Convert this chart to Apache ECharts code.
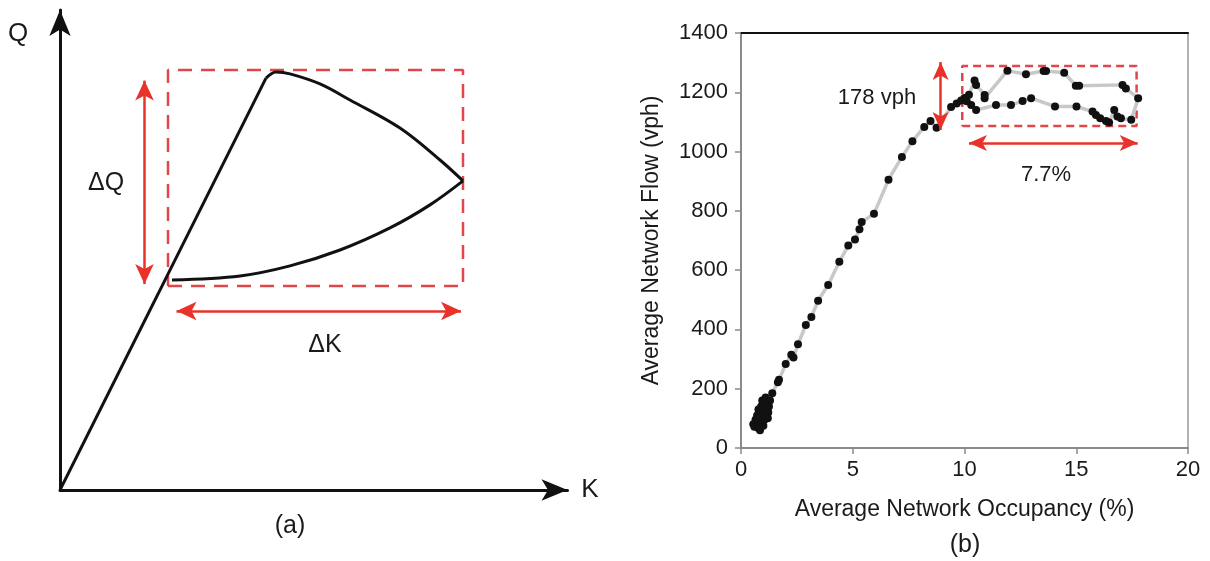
<!DOCTYPE html>
<html>
<head>
<meta charset="utf-8">
<script src="https://cdn.jsdelivr.net/npm/echarts@6/dist/echarts.min.js"></script>
<style>
  html, body { margin: 0; padding: 0; background: #fff; }
  #chart { width: 1210px; height: 561px; }
</style>
</head>
<body>
<div id="chart"></div>
<script>
// ---------- Panel (b) data: Average Network Occupancy (%) vs Average Network Flow (vph) ----------
const occupancy = [
  0.55, 0.6, 0.75, 0.7, 0.85, 0.8, 0.9, 0.8, 0.95, 1.0, 0.9, 1.05, 1.0, 1.1, 0.95, 1.15, 1.2, 1.25, 1.1, 1.3,
  0.65, 0.72, 0.88, 1.02, 1.18, 0.78, 0.98, 1.22,
  1.4, 1.65, 1.7, 2.0, 2.25, 2.35, 2.55, 2.9, 3.15, 3.45, 3.9, 4.4, 4.8, 5.1, 5.3, 5.4, 5.95, 6.6, 7.2, 7.67,
  8.2, 8.48, 8.75, 9.4, 9.65, 9.85, 10.0, 10.2, 10.45, 10.52, 10.9, 10.9,
  11.92, 12.75, 13.54, 13.65, 14.46, 14.98, 15.13, 17.07, 17.22, 17.77,
  17.46, 17.0, 16.84, 16.7, 16.47, 16.33, 16.07, 15.88, 15.73, 15.01, 14.05, 12.98, 12.6, 12.08, 11.41,
  10.52, 10.3, 10.1
];
const flow = [
  80, 72, 68, 90, 60, 100, 85, 120, 110, 75, 140, 95, 130, 150, 160, 120, 100, 140, 170, 160,
  95, 110, 70, 115, 135, 130, 150, 120,
  185, 222, 230, 283, 315, 305, 350, 415, 442, 497, 550, 628, 683, 703, 738, 762, 790, 905, 982, 1035,
  1083, 1103, 1080, 1150, 1162, 1172, 1181, 1192, 1240, 1225, 1191, 1180,
  1273, 1261, 1272, 1272, 1266, 1222, 1222, 1225, 1213, 1180,
  1107, 1112, 1118, 1140, 1098, 1103, 1112, 1123, 1135, 1152, 1152, 1180, 1171, 1157, 1157,
  1140, 1157, 1170
];
const occTicks = [0, 5, 10, 15, 20];
const flowTicks = [0, 200, 400, 600, 800, 1000, 1200, 1400];
// annotation box (b)
const boxOccB = [9.9, 17.7];
const boxFlowB = [1086, 1289];
const arrowFlowB = { occ: 8.93, from: 1073, to: 1302 };   // 178 vph
const arrowOccB = { flow: 1029, from: 10.2, to: 17.75 };   // 7.7 %

// ---------- Panel (a) schematic data (arbitrary K/Q units) ----------
const rampK = [0, 41.2];
const rampQ = [0, 85.8];
const upperK = [41.2, 43.2, 46.0, 52.0, 58.0, 68.0, 76.0, 80.6];
const upperQ = [85.8, 87.1, 86.7, 84.6, 81.25, 75.4, 68.75, 64.4];
const lowerK = [80.6, 74.0, 66.0, 56.0, 46.0, 36.0, 22.4];
const lowerQ = [64.4, 59.4, 54.6, 50.0, 46.7, 44.6, 43.75];
const boxKA = [21.6, 80.6];
const boxQA = [42.5, 87.5];
const arrowQA = { k: 16.9, from: 42.9, to: 85.3 };
const arrowKA = { q: 37.3, from: 23.3, to: 80.2 };

const zip = (a, b) => a.map((v, i) => [v, b[i]]);
const rect = (xs, ys) => [[xs[0], ys[0]], [xs[1], ys[0]], [xs[1], ys[1]], [xs[0], ys[1]], [xs[0], ys[0]]];

const RED = '#e8322a';
const DASHRED = '#e0464a';
const INK = '#1a1a1a';
const FONT = 'Liberation Sans, Arial, sans-serif';

const chart = echarts.init(document.getElementById('chart'), null, { renderer: 'canvas' });

const option = {
  animation: false,
  backgroundColor: '#ffffff',
  textStyle: { fontFamily: FONT },
  grid: [
    { left: 60, top: 10, width: 507.5, height: 480, containLabel: false },
    { left: 741, right: 22, top: 33, bottom: 113, containLabel: false,
      show: true, borderColor: '#9a9a9a', borderWidth: 1.5 }
  ],
  xAxis: [
    { gridIndex: 0, type: 'value', min: 0, max: 101.5,
      axisLine: { show: true, symbol: ['none', 'arrow'], symbolSize: [16, 26],
        lineStyle: { color: '#111', width: 3 } },
      axisTick: { show: false }, axisLabel: { show: false }, splitLine: { show: false } },
    { gridIndex: 1, type: 'value', min: occTicks[0], max: occTicks[occTicks.length - 1], interval: 5,
      axisLine: { show: true, onZero: false, lineStyle: { color: '#8a8a8a', width: 2 } },
      axisTick: { show: true, length: 6, lineStyle: { color: '#8a8a8a', width: 1.5 } },
      axisLabel: { color: INK, fontSize: 22, margin: 11, fontFamily: FONT },
      splitLine: { show: false },
      name: 'Average Network Occupancy (%)', nameLocation: 'middle', nameGap: 50,
      nameTextStyle: { color: INK, fontSize: 23, fontFamily: FONT } },
    { gridIndex: 1, type: 'value', min: 0, max: 20, position: 'top',
      axisLine: { show: true, onZero: false, lineStyle: { color: '#111', width: 2 } },
      axisTick: { show: false }, axisLabel: { show: false }, splitLine: { show: false } }
  ],
  yAxis: [
    { gridIndex: 0, type: 'value', min: 0, max: 100,
      axisLine: { show: true, symbol: ['none', 'arrow'], symbolSize: [16, 26],
        lineStyle: { color: '#111', width: 3 } },
      axisTick: { show: false }, axisLabel: { show: false }, splitLine: { show: false } },
    { gridIndex: 1, type: 'value', min: flowTicks[0], max: flowTicks[flowTicks.length - 1], interval: 200,
      axisLine: { show: true, onZero: false, lineStyle: { color: '#8a8a8a', width: 2 } },
      axisTick: { show: true, length: 6, lineStyle: { color: '#8a8a8a', width: 1.5 } },
      axisLabel: { color: INK, fontSize: 22, margin: 13, fontFamily: FONT,
        formatter: (v) => String(v) },
      splitLine: { show: false },
      name: 'Average Network Flow (vph)', nameLocation: 'middle', nameGap: 78,
      nameTextStyle: { color: INK, fontSize: 23, fontFamily: FONT } }
  ],
  series: [
    // ----- panel (a) -----
    { type: 'line', xAxisIndex: 0, yAxisIndex: 0, data: rect(boxKA, boxQA), symbol: 'none',
      lineStyle: { color: DASHRED, width: 2.5, type: [14, 9] }, z: 2 },
    { type: 'line', xAxisIndex: 0, yAxisIndex: 0, data: zip(rampK, rampQ), symbol: 'none',
      lineStyle: { color: '#111', width: 3 }, z: 3 },
    { type: 'line', xAxisIndex: 0, yAxisIndex: 0, data: zip(upperK, upperQ), symbol: 'none',
      smooth: 0.35,
      lineStyle: { color: '#111', width: 3 }, z: 3 },
    { type: 'line', xAxisIndex: 0, yAxisIndex: 0, data: zip(lowerK, lowerQ), symbol: 'none',
      smooth: 0.35,
      lineStyle: { color: '#111', width: 3 }, z: 3,
      markLine: {
        silent: true, symbol: ['arrow', 'arrow'], symbolSize: [14, 20],
        label: { show: false },
        lineStyle: { color: RED, width: 2.5, type: 'solid' },
        data: [
          [{ coord: [arrowQA.k, arrowQA.from] }, { coord: [arrowQA.k, arrowQA.to] }],
          [{ coord: [arrowKA.from, arrowKA.q] }, { coord: [arrowKA.to, arrowKA.q] }]
        ]
      } },
    // ----- panel (b) -----
    { type: 'line', xAxisIndex: 1, yAxisIndex: 1, data: rect(boxOccB, boxFlowB), symbol: 'none',
      lineStyle: { color: DASHRED, width: 2.5, type: [8, 5] }, z: 2 },
    { type: 'line', xAxisIndex: 1, yAxisIndex: 1, data: zip(occupancy, flow),
      symbol: 'circle', symbolSize: 8, showSymbol: true,
      itemStyle: { color: '#111' },
      lineStyle: { color: '#c8c8c8', width: 3.5 }, z: 3,
      markLine: {
        silent: true, symbol: ['arrow', 'arrow'], symbolSize: [12, 18],
        label: { show: false },
        lineStyle: { color: RED, width: 2.5, type: 'solid' },
        data: [
          [{ coord: [arrowFlowB.occ, arrowFlowB.from] }, { coord: [arrowFlowB.occ, arrowFlowB.to] }],
          [{ coord: [arrowOccB.from, arrowOccB.flow] }, { coord: [arrowOccB.to, arrowOccB.flow] }]
        ]
      } }
  ],
  graphic: [
    { type: 'text', x: 18, y: 34, style: { text: 'Q', fontSize: 26, fill: INK, fontFamily: FONT, align: 'center', verticalAlign: 'middle' } },
    { type: 'text', x: 590, y: 490, style: { text: 'K', fontSize: 26, fill: INK, fontFamily: FONT, align: 'center', verticalAlign: 'middle' } },
    { type: 'text', x: 290, y: 526, style: { text: '(a)', fontSize: 25, fill: INK, fontFamily: FONT, align: 'center', verticalAlign: 'middle' } },
    { type: 'text', x: 106, y: 183, style: { text: 'ΔQ', fontSize: 25, fill: INK, fontFamily: FONT, align: 'center', verticalAlign: 'middle' } },
    { type: 'text', x: 325, y: 345, style: { text: 'ΔK', fontSize: 25, fill: INK, fontFamily: FONT, align: 'center', verticalAlign: 'middle' } },
    { type: 'text', x: 877, y: 98, style: { text: '178 vph', fontSize: 22, fill: INK, fontFamily: FONT, align: 'center', verticalAlign: 'middle' } },
    { type: 'text', x: 1046, y: 175, style: { text: '7.7%', fontSize: 22, fill: INK, fontFamily: FONT, align: 'center', verticalAlign: 'middle' } },
    { type: 'text', x: 965, y: 545, style: { text: '(b)', fontSize: 25, fill: INK, fontFamily: FONT, align: 'center', verticalAlign: 'middle' } }
  ]
};
chart.setOption(option);
</script>
</body>
</html>
